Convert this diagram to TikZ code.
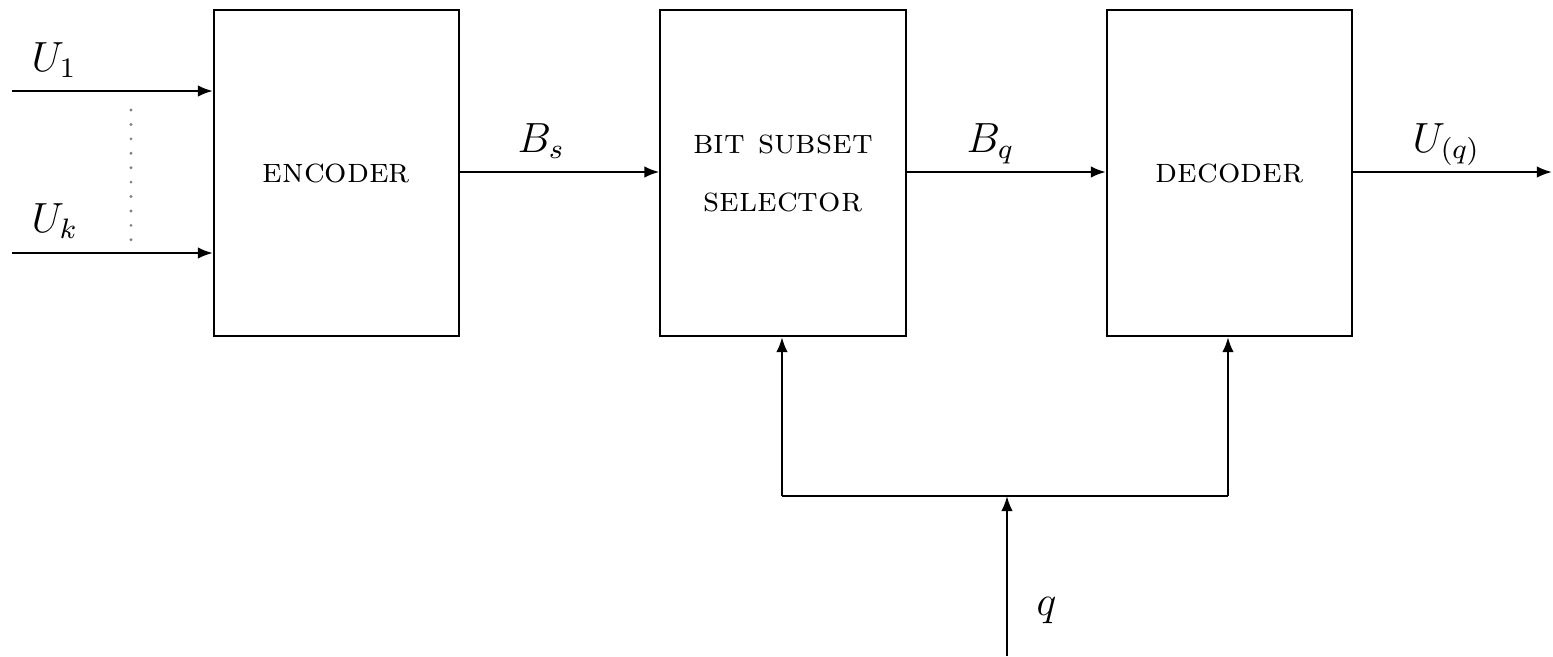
\documentclass[tikz,border=0pt]{standalone}
\usetikzlibrary{arrows.meta}
\begin{document}
\begin{tikzpicture}[x=0.01cm,y=-0.01cm,
  blk/.style={draw,line width=0.6pt,minimum width=2.45cm,minimum height=3.26cm,inner sep=0pt,align=center,font=\fontsize{10}{16.5}\selectfont\scshape},
  sig/.style={line width=0.6pt,-{Latex[length=1.5mm,width=1.15mm]}},
  lbl/.style={font=\fontsize{11.5}{14}\selectfont,anchor=base west,inner sep=0pt}]
\useasboundingbox (0,0) rectangle (1553,656);
\node[blk] (enc) at (336.5,173) {encoder};
\node[blk] (sel) at (783,173) {bit subset\\selector};
\node[blk] (dec) at (1229.5,173) {decoder};
\coordinate (u1) at (12,91);
\coordinate (uk) at (12,253);
\coordinate (out) at (1552,172);
\coordinate (qin) at (1007,656);
\coordinate (j) at (1007,496);
\coordinate (jl) at (782,496);
\coordinate (jr) at (1228,496);
\coordinate (dt) at (131,110);
\coordinate (db) at (131,240);
\draw[sig] (u1) -- (u1 -| enc.west);
\draw[sig] (uk) -- (uk -| enc.west);
\draw[line width=0.9pt,gray,line cap=round,dash pattern=on 0pt off 4.1pt] (dt) -- (db);
\draw[sig] (enc.east |- 0,172) -- (sel.west |- 0,172);
\draw[sig] (sel.east |- 0,172) -- (dec.west |- 0,172);
\draw[sig] (dec.east |- 0,172) -- (out);
\draw[line width=0.6pt] (jl) -- (jr);
\draw[sig] (jl) -- (jl |- sel.south);
\draw[sig] (jr) -- (jr |- dec.south);
\draw[sig] (qin) -- (j);
\node[lbl] (l1) at (31,71) {$U_1$};
\node[lbl] (lk) at (31,232) {$U_k$};
\node[lbl] (lbs) at (517,152) {$B_s$};
\node[lbl] (lbq) at (966,152) {$B_q$};
\node[lbl] (luq) at (1412,152) {$U_{(q)}$};
\node[lbl] (lq) at (1036,615) {$q$};
\end{tikzpicture}
\end{document}
